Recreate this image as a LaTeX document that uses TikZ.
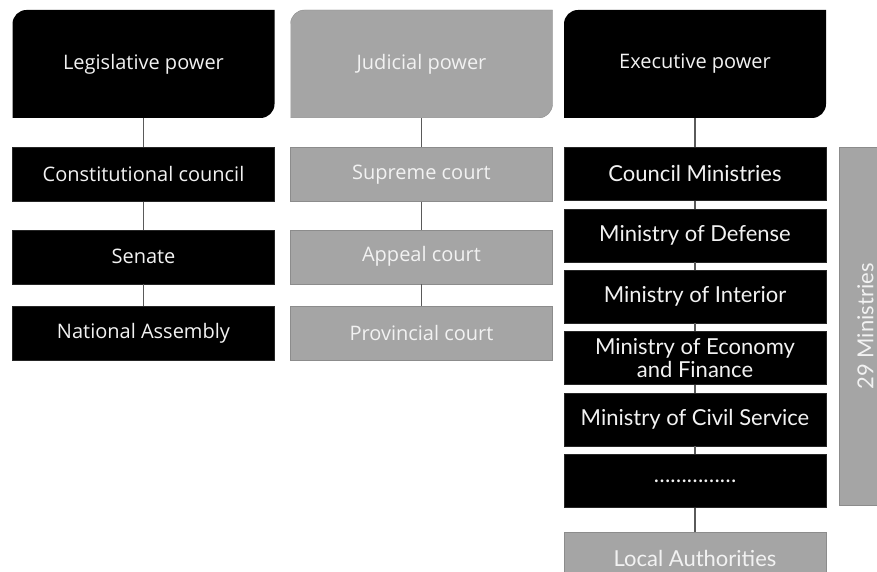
\documentclass[tikz,border=0pt]{standalone}
\usepackage{fontspec}
\setmainfont{Lato}
\newfontfamily\headfont{Open Sans}
\usepackage{graphicx}
\usetikzlibrary{positioning}

\definecolor{boxgrey}{HTML}{A5A5A5}
\definecolor{rimgrey}{HTML}{8C8C8C}
\definecolor{linkgrey}{HTML}{5A5A5A}
\definecolor{paper}{HTML}{F2F2F2}

\tikzset{
  power/.style={minimum width=262pt, minimum height=108pt, inner sep=0pt, text=paper,
    font=\headfont\fontsize{20}{24}\selectfont,
    path picture={\fill[#1] (path picture bounding box.south west)
      -- ([yshift=-14pt]path picture bounding box.north west)
      arc[start angle=180, end angle=90, radius=14pt]
      -- (path picture bounding box.north east)
      -- ([yshift=14pt]path picture bounding box.south east)
      arc[start angle=0, end angle=-90, radius=14pt] -- cycle;}},
  darkbox/.style={minimum width=262pt, minimum height=54pt, inner sep=0pt, fill=black,
    draw=black!85, text=paper, font=\headfont\fontsize{20}{24}\selectfont},
  greybox/.style={darkbox, fill=boxgrey, draw=rimgrey},
  minbox/.style={darkbox, minimum height=53pt, align=center,
    font=\fontsize{22}{23}\selectfont},
  sidebar/.style={minimum width=52pt, minimum height=358pt, inner sep=0pt, fill=boxgrey,
    draw=rimgrey, text=paper, font=\fontsize{22}{24}\selectfont},
  link/.style={draw=linkgrey, line width=1.5pt}
}

\begin{document}
\begin{tikzpicture}[x=1pt, y=1pt]
\useasboundingbox (0,0) rectangle (877,572);

% the three powers
\node[power={fill=black}] (leg) at (143.5,508) {Legislative power};
\node[power={fill=boxgrey, draw=rimgrey}] (jud) at (421.5,508) {Judicial power};
\node[power={fill=black}] (exe) at (695,508) {Executive power};

% legislative
\node[darkbox] (const) [below=29pt of leg] {Constitutional council};
\node[darkbox] (senate) [below=28pt of const] {Senate};
\node[darkbox] (assembly) [below=22pt of senate] {National Assembly};

% judicial
\node[greybox] (supreme) [below=29pt of jud] {Supreme court};
\node[greybox] (appeal) [below=28pt of supreme] {Appeal court};
\node[greybox] (province) [below=22pt of appeal] {Provincial court};

% executive
\node[minbox] (council) [below=29pt of exe] {Council Ministries};
\node[minbox] (defense) [below=8pt of council] {Ministry of Defense};
\node[minbox] (interior) [below=8pt of defense] {Ministry of Interior};
\node[minbox] (economy) [below=8pt of interior] {Ministry of Economy\\and Finance};
\node[minbox] (civil) [below=8pt of economy] {Ministry of Civil Service};
\node[minbox] (others) [below=8pt of civil] {……………};
\node[minbox, fill=boxgrey, draw=rimgrey] (local) [below=24pt of others] {Local Authorities};
\node[sidebar, anchor=north west] (count) at ([xshift=13pt]council.north east) {\rotatebox{90}{29 Ministries}};

\draw[link] (leg) -- (const);
\draw[link] (const) -- (senate);
\draw[link] (senate) -- (assembly);
\draw[link] (jud) -- (supreme);
\draw[link] (supreme) -- (appeal);
\draw[link] (appeal) -- (province);
\draw[link] (exe) -- (council);
\draw[link] (council) -- (defense);
\draw[link] (defense) -- (interior);
\draw[link] (interior) -- (economy);
\draw[link] (economy) -- (civil);
\draw[link] (civil) -- (others);
\draw[link] (others) -- (local);
\end{tikzpicture}
\end{document}
